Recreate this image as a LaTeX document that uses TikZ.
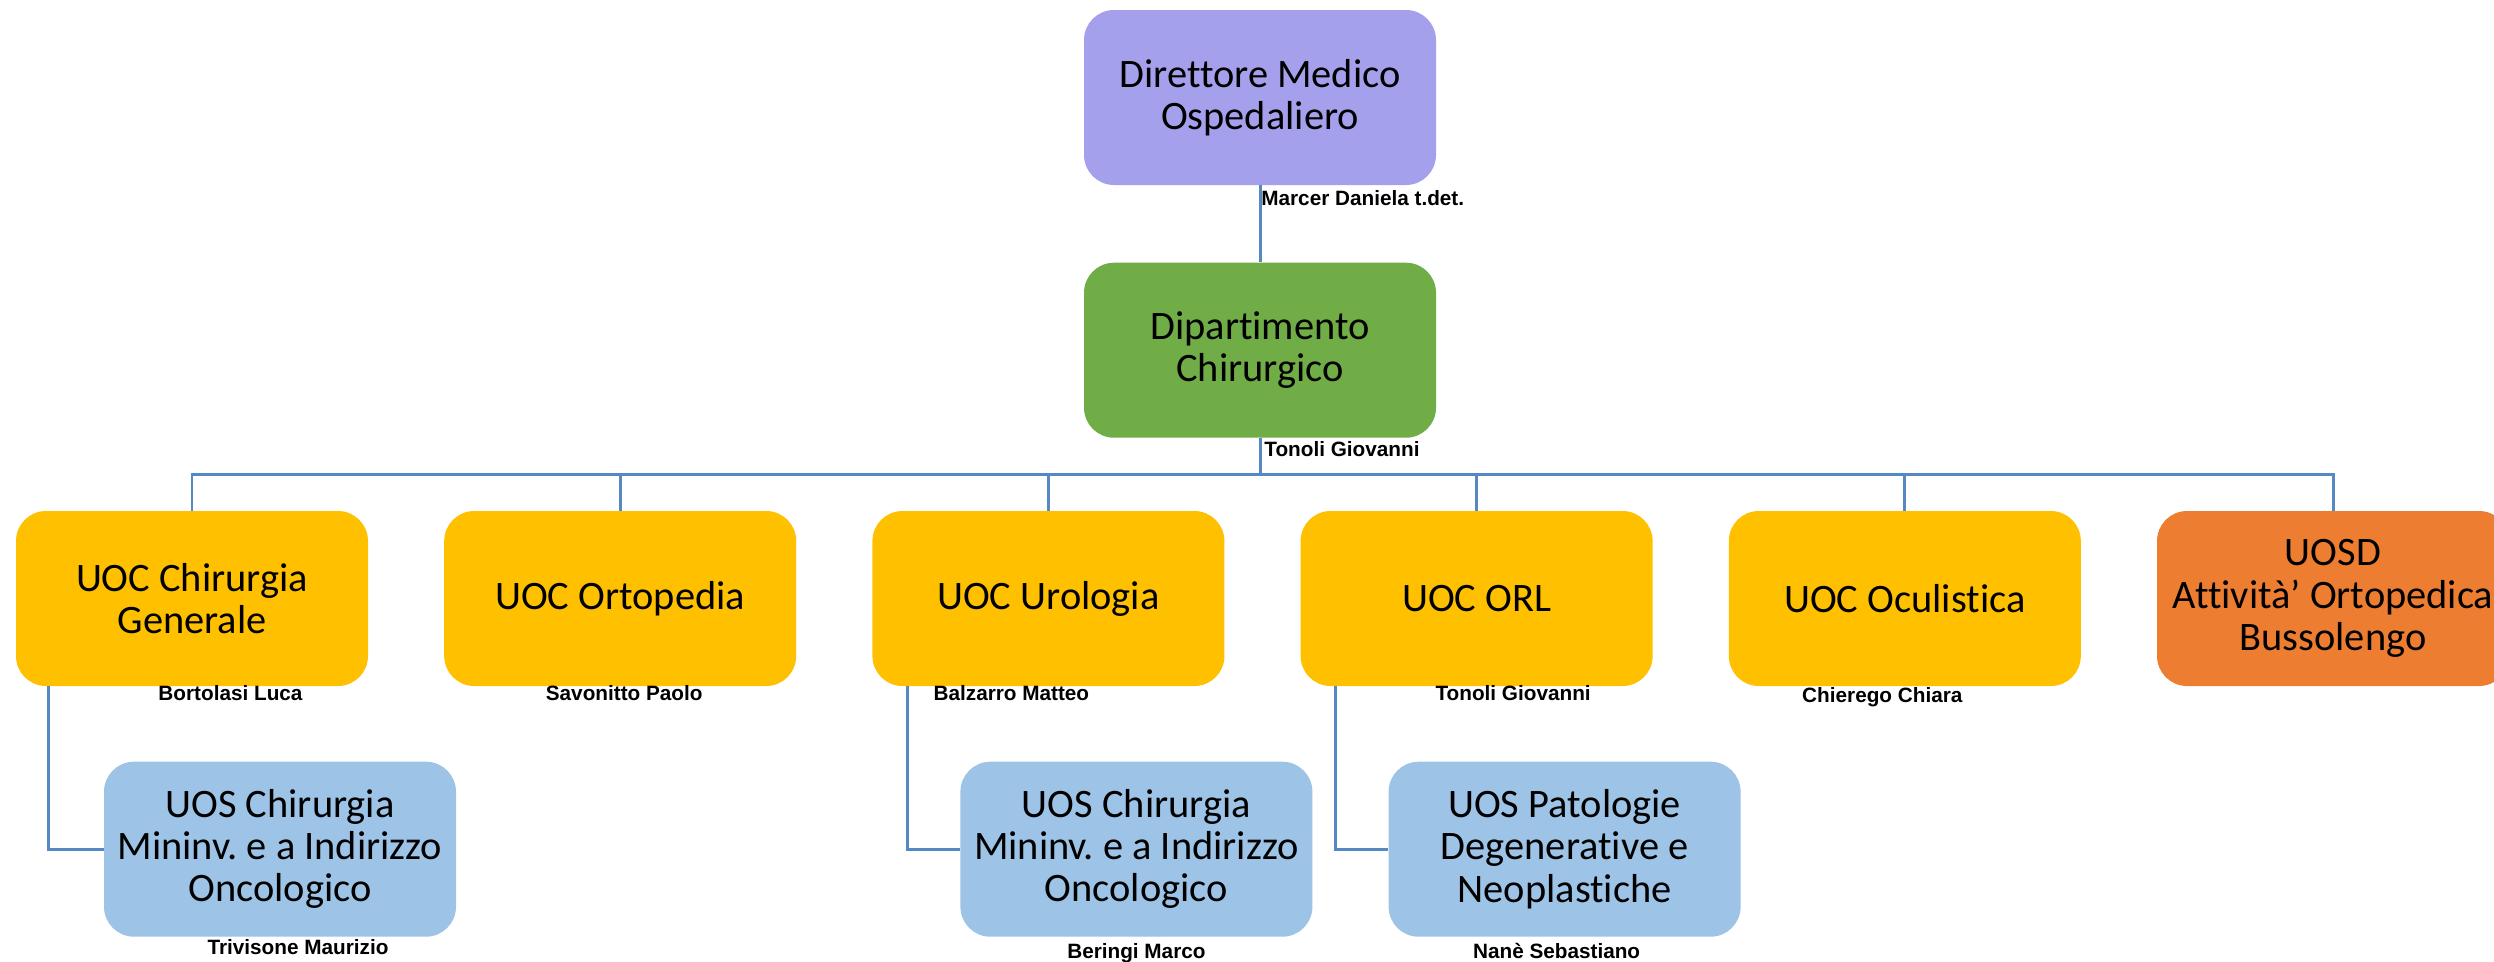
\documentclass[tikz,border=0pt]{standalone}
\usepackage{fontspec}
\setmainfont{Carlito}[Ligatures=NoCommon]
\newfontfamily\personfont{Liberation Sans}
\usetikzlibrary{positioning,calc}
\frenchspacing

\definecolor{dirfill}{RGB}{165,160,236}
\definecolor{depfill}{RGB}{112,173,71}
\definecolor{uocfill}{RGB}{255,192,0}
\definecolor{uosdfill}{RGB}{237,125,49}
\definecolor{uosfill}{RGB}{157,195,230}
\definecolor{linkblue}{RGB}{84,137,196}

\tikzset{
  unit/.style={rounded corners=0.6cm, minimum width=7.04cm, minimum height=3.5cm,
    inner sep=0pt, align=center, font=\fontsize{23}{24}\selectfont},
  person/.style={anchor=base, inner sep=0pt,
    font=\personfont\bfseries\fontsize{11.8}{13}\selectfont},
  link/.style={draw=linkblue, line width=1.7pt},
}

\begin{document}
\begin{tikzpicture}
\useasboundingbox (0,0) rectangle (49.88,-19.22);

\node (dir) [unit, fill=dirfill] at (25.2,-1.95) {Direttore Medico\\Ospedaliero};
\node (dep) [unit, fill=depfill, below=1.54cm of dir] {Dipartimento\\Chirurgico};

\node (uoc1) [unit, fill=uocfill] at (3.84,-11.97) {UOC Chirurgia\\Generale};
\node (uoc2) [unit, fill=uocfill, right=1.51cm of uoc1] {UOC Ortopedia};
\node (uoc3) [unit, fill=uocfill, right=1.51cm of uoc2] {UOC Urologia};
\node (uoc4) [unit, fill=uocfill, right=1.51cm of uoc3] {UOC ORL};
\node (uoc5) [unit, fill=uocfill, right=1.51cm of uoc4] {UOC Oculistica};
\node (uosd) [unit, fill=uosdfill, right=1.51cm of uoc5] {UOSD\\Attività’ Ortopedica\\Bussolengo};

\node (uos1) [unit, fill=uosfill, below=1.5cm of uoc1, xshift=1.76cm] {UOS Chirurgia\\Mininv. e a Indirizzo\\Oncologico};
\node (uos3) [unit, fill=uosfill, below=1.5cm of uoc3, xshift=1.76cm] {UOS Chirurgia\\Mininv. e a Indirizzo\\Oncologico};
\node (uos4) [unit, fill=uosfill, below=1.5cm of uoc4, xshift=1.76cm] {UOS Patologie\\Degenerative e\\Neoplastiche};

% connectors
\draw [link] (dir) -- (dep);
\draw [link] (dep.south) -- ++(0,-0.72) coordinate (bus) -| (uoc1.north);
\draw [link] (bus) -| (uoc2.north);
\draw [link] (bus) -| (uoc3.north);
\draw [link] (bus) -| (uoc4.north);
\draw [link] (bus) -| (uoc5.north);
\draw [link] (bus) -| (uosd.north);

\draw [link] ([xshift=0.66cm]uoc1.south west) |- (uos1.west);
\draw [link] ([xshift=0.7cm]uoc3.south west) |- (uos3.west);
\draw [link] ([xshift=0.7cm]uoc4.south west) |- (uos4.west);

% names
\node (marcer) [person, anchor=base west] at ($ (dir.south) + (0.02,-0.4) $) {Marcer Daniela t.det.};
\node (tonolidep) [person, anchor=base west] at ($ (dep.south) + (0.08,-0.36) $) {Tonoli Giovanni};
\node (bortolasi) [person] at ($ (uoc1.south) + (0.77,-0.28) $) {Bortolasi Luca};
\node (savonitto) [person] at ($ (uoc2.south) + (0.08,-0.28) $) {Savonitto Paolo};
\node (balzarro) [person] at ($ (uoc3.south) + (-0.74,-0.28) $) {Balzarro Matteo};
\node (tonoliorl) [person] at ($ (uoc4.south) + (0.73,-0.28) $) {Tonoli Giovanni};
\node (chierego) [person] at ($ (uoc5.south) + (-0.45,-0.32) $) {Chierego Chiara};
\node (trivisone) [person] at ($ (uos1.south) + (0.36,-0.34) $) {Trivisone Maurizio};
\node (beringi) [person] at ($ (uos3.south) + (0,-0.42) $) {Beringi Marco};
\node (nane) [person] at ($ (uos4.south) + (-0.16,-0.42) $) {Nanè Sebastiano};

\end{tikzpicture}
\end{document}
